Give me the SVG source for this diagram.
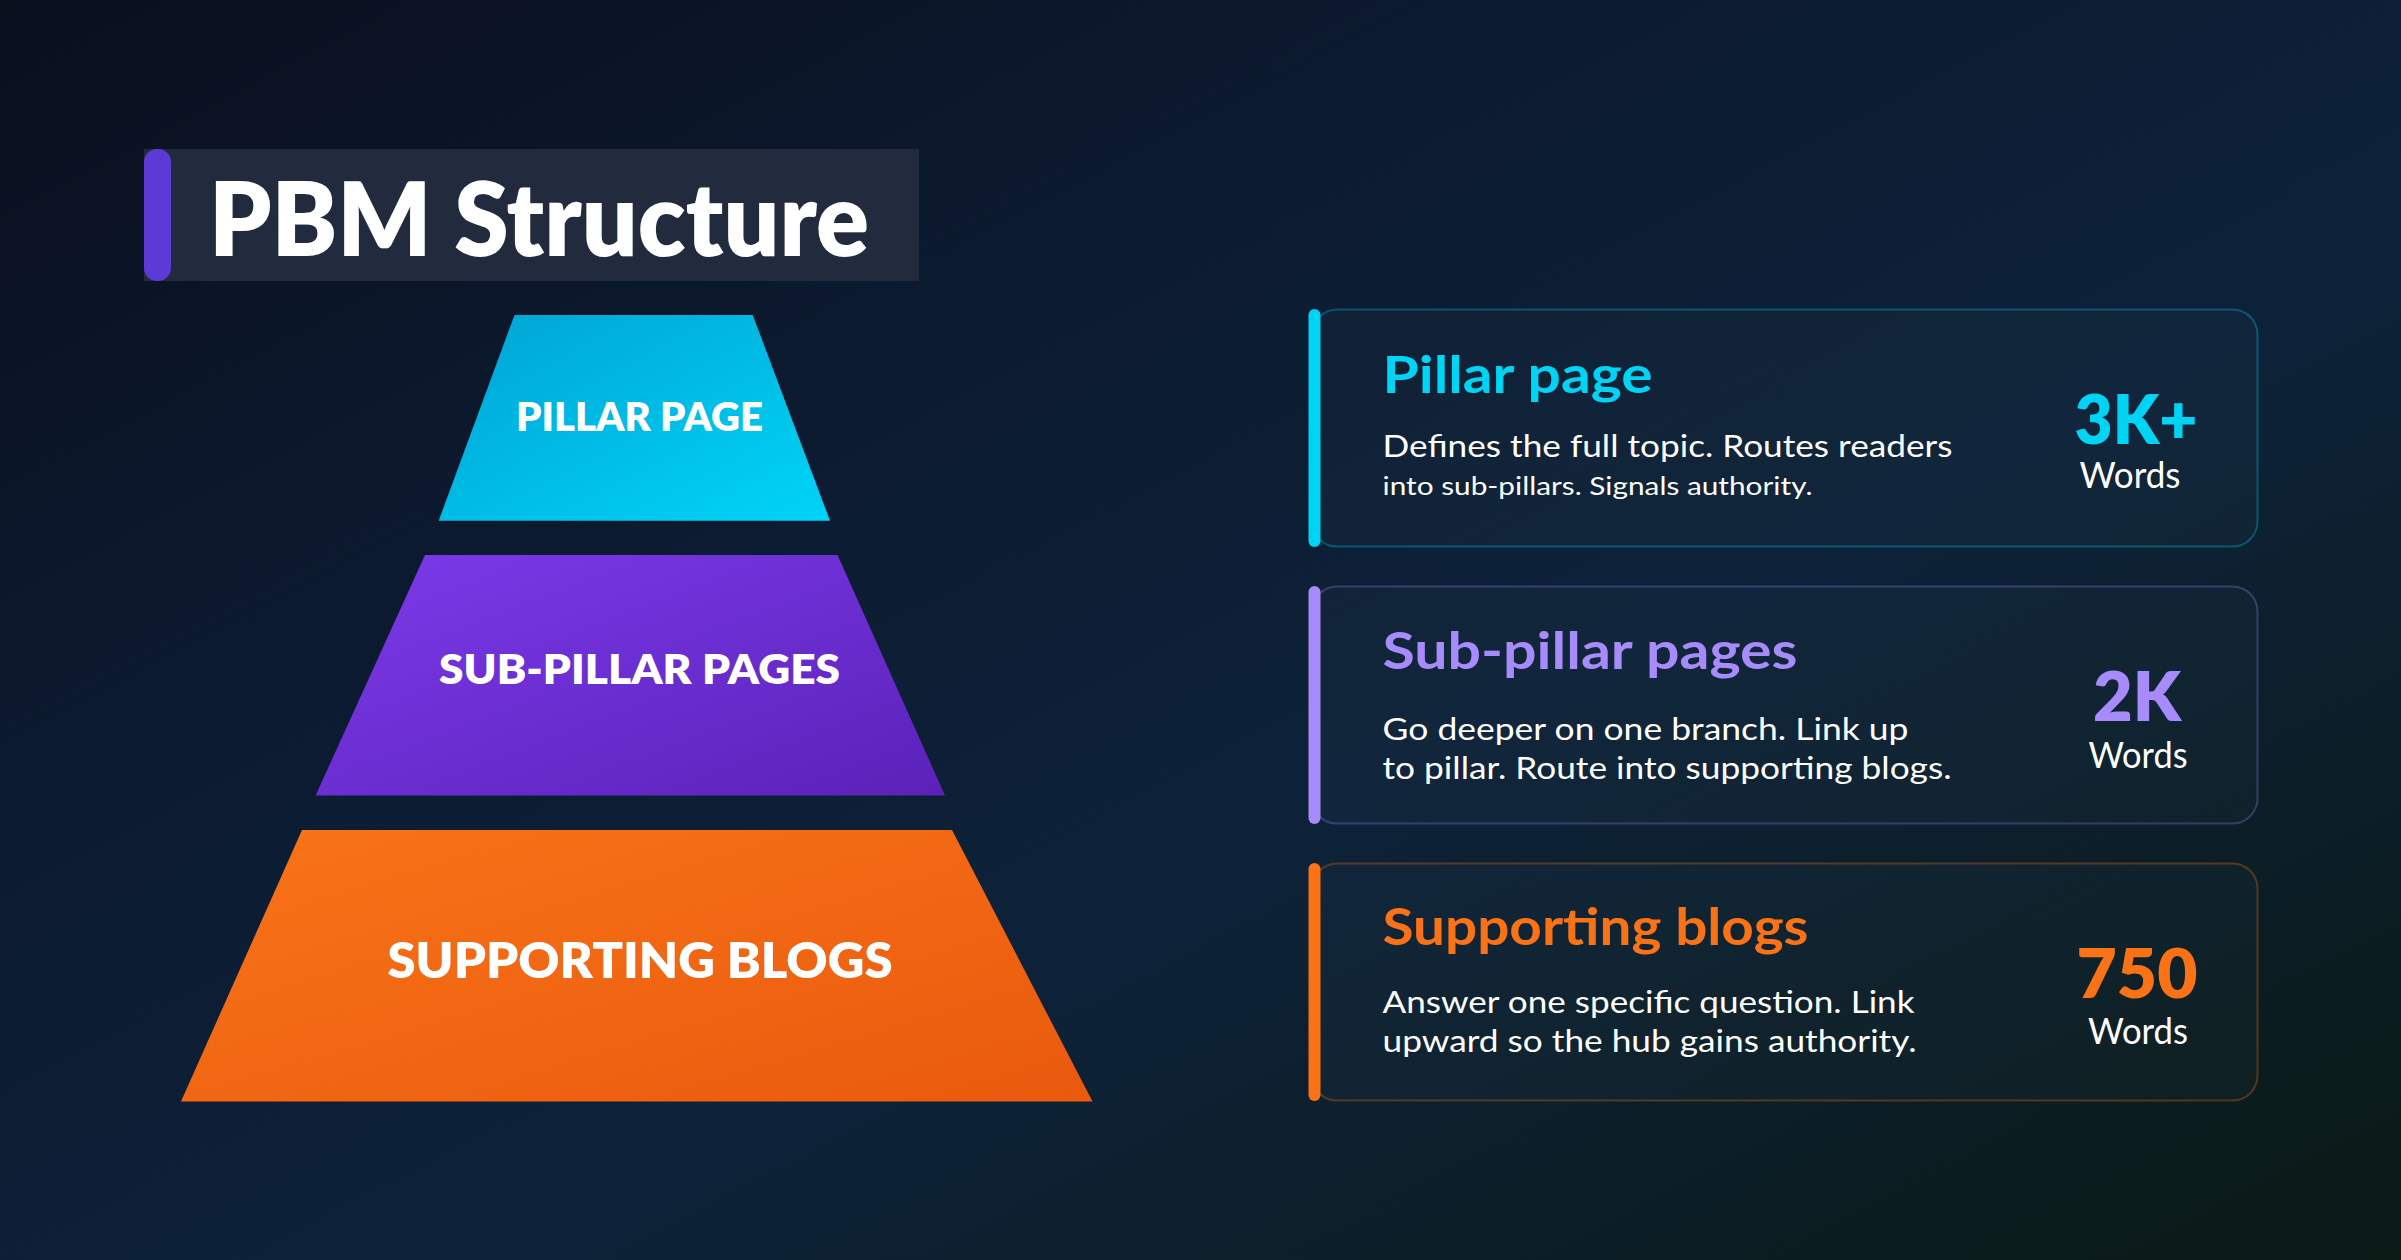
<svg xmlns="http://www.w3.org/2000/svg" width="2401" height="1260" viewBox="0 0 2401 1260">
  <defs>
    <linearGradient id="bg" x1="0" y1="0" x2="1" y2="1">
      <stop offset="0" stop-color="#0a0f1e"/>
      <stop offset="0.35" stop-color="#0c1b31"/>
      <stop offset="0.6" stop-color="#0d2239"/>
      <stop offset="1" stop-color="#0a1a15"/>
    </linearGradient>
    <linearGradient id="gPillar" x1="0" y1="0" x2="1" y2="1">
      <stop offset="0" stop-color="#00a3d4"/>
      <stop offset="1" stop-color="#00d4f6"/>
    </linearGradient>
    <linearGradient id="gSub" x1="0" y1="0" x2="1" y2="1">
      <stop offset="0" stop-color="#7c3aea"/>
      <stop offset="1" stop-color="#5a22b8"/>
    </linearGradient>
    <linearGradient id="gBlog" x1="0" y1="0" x2="1" y2="1">
      <stop offset="0" stop-color="#f97418"/>
      <stop offset="1" stop-color="#e9590e"/>
    </linearGradient>
    <style>
      .ui { font-family: Lato, "Liberation Sans", "Noto Sans", sans-serif; }
      .title { font-size: 102px; font-weight: 800; fill: #ffffff; }
      .lvl { font-weight: 800; fill: #ffffff; }
      .card { fill: #ffffff; fill-opacity: 0.02; stroke-width: 2; }
      .head { font-size: 52px; font-weight: 700; }
      .desc { font-size: 30px; font-weight: 400; fill: #ffffff; }
      .desc2 { font-size: 25px; font-weight: 400; fill: #ffffff; }
      .num { font-size: 69px; font-weight: 800; text-anchor: middle; }
      .words { font-size: 36px; font-weight: 400; fill: #ffffff; text-anchor: middle; }
      .cyan { fill: #00d4f5; }
      .violet { fill: #a78bfa; }
      .orange { fill: #f97316; }
    </style>
  </defs>

  <rect x="0" y="0" width="2401" height="1260" fill="url(#bg)"/>

  <g id="title" class="ui">
    <rect x="144" y="149" width="775" height="132" fill="#212b3d"/>
    <rect x="144" y="149" width="27" height="132" rx="13" fill="#5b3ad6"/>
    <text class="title" x="209" y="256" textLength="660" lengthAdjust="spacingAndGlyphs">PBM Structure</text>
  </g>

  <g id="pyramid-pillar" class="ui">
    <polygon points="514.5,315 752.7,315 830,520.7 438.7,520.7" fill="url(#gPillar)"/>
    <text class="lvl" x="516" y="431" font-size="39" textLength="247" lengthAdjust="spacingAndGlyphs">PILLAR PAGE</text>
  </g>

  <g id="pyramid-subpillar" class="ui">
    <polygon points="425,555 837.5,555 945,795.5 315.6,795.5" fill="url(#gSub)"/>
    <text class="lvl" x="439" y="684" font-size="41" textLength="401" lengthAdjust="spacingAndGlyphs">SUB-PILLAR PAGES</text>
  </g>

  <g id="pyramid-blogs" class="ui">
    <polygon points="302,830 952,830 1092.5,1101.5 181,1101.5" fill="url(#gBlog)"/>
    <text class="lvl" x="387.5" y="978" font-size="49" textLength="505" lengthAdjust="spacingAndGlyphs">SUPPORTING BLOGS</text>
  </g>

  <g id="card-pillar" class="ui">
    <rect class="card" x="1312" y="309.5" width="945.5" height="237" rx="25" stroke="#00d4f5" stroke-opacity="0.3"/>
    <rect x="1308.5" y="309" width="12" height="238" rx="6" fill="#00d4f5"/>
    <text class="head cyan" x="1382.5" y="392.5" textLength="270" lengthAdjust="spacingAndGlyphs">Pillar page</text>
    <text class="desc" x="1382.5" y="457" textLength="570" lengthAdjust="spacingAndGlyphs">Defines the full topic. Routes readers</text>
    <text class="desc2" x="1382.5" y="495" textLength="430" lengthAdjust="spacingAndGlyphs">into sub-pillars. Signals authority.</text>
    <text class="num cyan" x="2136" y="444" textLength="123" lengthAdjust="spacingAndGlyphs">3K+</text>
    <text class="words" x="2130" y="488" textLength="101" lengthAdjust="spacingAndGlyphs">Words</text>
  </g>

  <g id="card-subpillar" class="ui">
    <rect class="card" x="1312" y="586.5" width="945.5" height="237" rx="25" stroke="#a78bfa" stroke-opacity="0.28"/>
    <rect x="1308.5" y="586" width="12" height="238" rx="6" fill="#a78bfa"/>
    <text class="head violet" x="1382.5" y="669" textLength="415" lengthAdjust="spacingAndGlyphs">Sub-pillar pages</text>
    <text class="desc" x="1382.5" y="740" textLength="526" lengthAdjust="spacingAndGlyphs">Go deeper on one branch. Link up</text>
    <text class="desc" x="1382.5" y="779" textLength="569" lengthAdjust="spacingAndGlyphs">to pillar. Route into supporting blogs.</text>
    <text class="num violet" x="2137" y="721" textLength="88" lengthAdjust="spacingAndGlyphs">2K</text>
    <text class="words" x="2138" y="768" textLength="99" lengthAdjust="spacingAndGlyphs">Words</text>
  </g>

  <g id="card-blogs" class="ui">
    <rect class="card" x="1312" y="863.5" width="945.5" height="237" rx="25" stroke="#f97316" stroke-opacity="0.3"/>
    <rect x="1308.5" y="863" width="12" height="238" rx="6" fill="#f97316"/>
    <text class="head orange" x="1382.5" y="945" textLength="426" lengthAdjust="spacingAndGlyphs">Supporting blogs</text>
    <text class="desc" x="1382.5" y="1013" textLength="532" lengthAdjust="spacingAndGlyphs">Answer one specific question. Link</text>
    <text class="desc" x="1382.5" y="1052" textLength="534" lengthAdjust="spacingAndGlyphs">upward so the hub gains authority.</text>
    <text class="num orange" x="2137" y="998" textLength="121" lengthAdjust="spacingAndGlyphs">750</text>
    <text class="words" x="2138" y="1044" textLength="100" lengthAdjust="spacingAndGlyphs">Words</text>
  </g>

  <g id="connectors"/>
</svg>
